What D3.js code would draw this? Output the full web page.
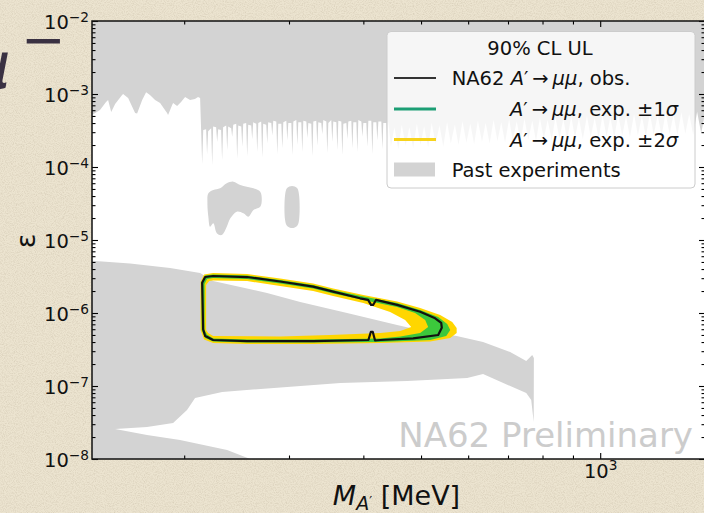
<!DOCTYPE html>
<html>
<head>
<meta charset="utf-8">
<script src="https://cdn.jsdelivr.net/npm/d3@7"></script>
<style>
  body { margin: 0; background: #ebe3cf; overflow: hidden; }
  svg { display: block; font-family: "DejaVu Sans", sans-serif; }
</style>
</head>
<body>
<div id="chart"></div>
<script>

// ---- data (mass in MeV, epsilon) ----

// past experiments, upper region: smooth lower edge up to ~213 MeV
var topEdgeMass = [140, 144.4, 147.8, 149, 150.8, 153.1, 157.3, 157.9, 161, 165.4, 166.7, 170, 172.6, 175.2,
  178.7, 182.2, 187.2, 187.9, 190.9, 191.6, 194.6, 197.6, 200.7, 204.6, 208.5, 211, 212.7];
var topEdgeEps = [5.15e-4, 6.04e-4, 7.76e-4, 8.27e-4, 5.66e-4, 7.29e-4, 9.68e-4, 1.0e-3, 8.81e-4, 5.49e-4, 5.4e-4, 8.27e-4, 1.06e-3, 9.68e-4,
  8.27e-4, 7.5e-4, 5.49e-4, 5.15e-4, 7.06e-4, 7.53e-4, 6.85e-4, 7.8e-4, 9.1e-4, 8.27e-4, 8.55e-4, 9.1e-4, 8.81e-4];

// then a comb of thin downward spikes (base, tip, base)
var spikeMass = [
  213.6, 214.4, 215.3,  217.7, 218.5, 219.4,  222.0, 222.9, 223.7,  226.3, 227.2, 228.1,
  230.7, 231.6, 232.5,  235.3, 236.2, 237.1,  239.9, 240.8, 241.8,  244.6, 245.5, 246.5,
  249.4, 250.4, 251.3,  254.2, 255.2, 256.2,  259.2, 260.2, 261.2,  264.3, 265.3, 266.4,
  269.4, 270.5, 271.5,  274.7, 275.8, 276.8,  280.1, 281.2, 282.3,  285.6, 286.7, 287.8,
  291.2, 292.3, 293.5,  296.9, 298.0, 299.2,  302.7, 303.9, 305.1,  308.6, 309.8, 311.0,
  314.6, 315.8, 317.1,  320.8, 322.0, 323.3,  327.0, 328.3, 329.6,  333.4, 334.7, 336.0,
  339.9, 341.2, 342.6,  346.6, 347.9, 349.3,  353.3, 354.7, 356.1,  360.3, 361.7, 363.1,
  367.3, 368.7, 370.2,  374.5, 376.0, 377.4,  381.8, 383.3, 384.8,  389.3, 390.8, 392.3,
  396.9, 398.4, 400.0,  404.6, 406.2, 407.8,  412.5, 414.1, 415.7,  420.6, 422.2, 423.9,
  428.8, 430.5, 432.1,  437.2, 438.9, 440.6];
var spikeEps = [
  3.0e-4, 1.1e-4, 3.2e-4,  3.3e-4, 1.5e-4, 3.1e-4,  3.4e-4, 1.05e-4, 3.6e-4,  3.5e-4, 2.2e-4, 3.3e-4,
  3.2e-4, 1.25e-4, 3.5e-4,  3.7e-4, 1.7e-4, 3.6e-4,  3.4e-4, 2.6e-4, 3.8e-4,  3.9e-4, 1.3e-4, 3.7e-4,
  3.6e-4, 1.9e-4, 3.9e-4,  4.0e-4, 1.4e-4, 3.8e-4,  3.7e-4, 2.4e-4, 4.1e-4,  3.9e-4, 1.6e-4, 4.0e-4,
  4.2e-4, 1.35e-4, 3.9e-4,  3.8e-4, 2.1e-4, 4.1e-4,  4.0e-4, 2.7e-4, 4.3e-4,  4.2e-4, 1.5e-4, 3.9e-4,
  3.9e-4, 1.8e-4, 4.1e-4,  4.3e-4, 2.3e-4, 4.0e-4,  4.0e-4, 1.45e-4, 4.2e-4,  4.4e-4, 2.0e-4, 4.1e-4,
  4.1e-4, 1.6e-4, 4.3e-4,  4.2e-4, 2.5e-4, 4.0e-4,  3.9e-4, 1.4e-4, 4.2e-4,  4.3e-4, 1.95e-4, 4.1e-4,
  4.0e-4, 2.8e-4, 4.4e-4,  4.2e-4, 1.55e-4, 4.0e-4,  4.4e-4, 2.2e-4, 4.2e-4,  4.1e-4, 1.7e-4, 4.3e-4,
  4.2e-4, 1.45e-4, 3.9e-4,  4.0e-4, 2.4e-4, 4.2e-4,  4.3e-4, 1.8e-4, 4.1e-4,  4.1e-4, 1.6e-4, 4.4e-4,
  4.2e-4, 2.6e-4, 4.0e-4,  4.0e-4, 1.9e-4, 4.3e-4,  4.3e-4, 1.5e-4, 4.1e-4,  4.1e-4, 2.3e-4, 4.2e-4,
  4.2e-4, 1.75e-4, 4.0e-4,  4.0e-4, 2.0e-4, 4.2e-4];

// coarser comb behind the legend and out to the right edge
var farMass = [445, 451, 458, 464, 471, 478, 485, 492, 499, 506, 514, 521, 529, 537, 545, 553, 561, 570,
  578, 587, 596, 605, 614, 623, 633, 642, 652, 662, 672, 682, 692, 703, 713, 724, 735, 746, 757, 769,
  780, 792, 804, 816, 829, 841, 854, 867, 880, 894, 907, 921, 935, 950, 964, 979, 994, 1009, 1025, 1040,
  1056, 1072, 1089, 1105, 1122, 1140, 1157, 1175, 1193, 1212, 1230, 1249, 1268, 1288, 1308, 1328, 1348,
  1369, 1390, 1411, 1433, 1455, 1478, 1500];
var farEps = [1.9e-4, 3.5e-4, 1.75e-4, 3.8e-4, 1.95e-4, 3.5e-4, 1.8e-4, 3.9e-4, 2.0e-4, 3.6e-4, 1.85e-4, 4.0e-4, 2.05e-4, 3.7e-4, 1.9e-4, 4.1e-4, 2.1e-4, 3.8e-4,
  2.0e-4, 4.2e-4, 2.15e-4, 3.9e-4, 2.05e-4, 4.3e-4, 2.2e-4, 4.0e-4, 2.1e-4, 4.4e-4, 2.25e-4, 4.1e-4, 2.15e-4, 4.5e-4, 2.3e-4, 4.2e-4, 2.2e-4, 4.6e-4, 2.35e-4, 4.3e-4,
  2.25e-4, 4.7e-4, 2.4e-4, 4.4e-4, 2.3e-4, 4.8e-4, 2.45e-4, 4.5e-4, 2.35e-4, 4.9e-4, 2.5e-4, 4.6e-4, 2.4e-4, 5.0e-4, 2.55e-4, 4.7e-4, 2.45e-4, 5.1e-4, 2.6e-4, 4.8e-4,
  2.5e-4, 5.2e-4, 2.65e-4, 4.9e-4, 2.55e-4, 5.3e-4, 2.7e-4, 5.0e-4, 2.6e-4, 5.4e-4, 2.75e-4, 5.1e-4, 2.65e-4, 5.5e-4, 2.8e-4, 5.2e-4, 2.7e-4,
  5.6e-4, 2.85e-4, 5.3e-4, 2.75e-4, 5.7e-4, 2.9e-4, 5.4e-4];

// past experiments, island around 2-6e-5
var pastBlobMass = [219.6, 223.9, 229.8, 235.8, 241.9, 248.4, 254.8, 261.5, 268.4, 270.0, 268.4, 261.5,
  256.4, 251.5, 245.1, 239.1, 235.8, 231.3, 226.9, 223.9, 221.1, 219.6, 218.8];
var pastBlobEps = [4.36e-5, 4.84e-5, 5.1e-5, 5.98e-5, 6.3e-5, 5.66e-5, 5.37e-5, 5.1e-5, 4.59e-5, 3.53e-5, 2.86e-5, 2.58e-5,
  2.09e-5, 2.32e-5, 2.44e-5, 1.98e-5, 1.52e-5, 1.17e-5, 1.24e-5, 1.69e-5, 1.52e-5, 2.09e-5, 3.18e-5];

// past experiments, narrow island near 300 MeV
var pastPillMass = [303.6, 309.5, 311.9, 311.9, 309.5, 303.6, 297.8, 295.5, 295.5, 297.8];
var pastPillEps = [5.5e-5, 5.16e-5, 4.13e-5, 1.88e-5, 1.56e-5, 1.46e-5, 1.56e-5, 1.88e-5, 4.13e-5, 5.16e-5];

// past experiments, lower band (beam dump region)
var pastLowMass = [140, 162.2, 189.4, 212.7, 223.7, 275.6, 313.3, 375.6, 455.8, 479.4, 573.9, 635.6, 705.8,
  751.2, 768.7, 773.7, 773.2, 765.8, 751.2, 635.6, 597.7, 473.8, 366.0, 231.6, 208.6, 202.2, 191.6,
  173.2, 153.1, 173.2, 196.8, 236.1, 258.2, 140];
var pastLowEps = [5.2e-6, 4.77e-6, 4.13e-6, 3.53e-6, 2.74e-6, 1.88e-6, 1.42e-6, 1.0e-6, 6.85e-7, 6.23e-7, 4.84e-7, 4.0e-7, 2.92e-7,
  2.2e-7, 2.66e-7, 2.42e-7, 3.21e-8, 6.43e-8, 8.0e-8, 1.46e-7, 1.29e-7, 1.17e-7, 1.10e-7, 8.3e-8, 6.85e-8, 4.69e-8, 3.11e-8,
  2.74e-8, 2.58e-8, 2.13e-8, 1.82e-8, 1.33e-8, 1.0e-8, 1.0e-8];

// NA62 observed 90% CL contour
var obsMass = [216.9, 223.7, 255.1, 289.9, 329.4, 355.8, 395.0, 407.4, 412.1, 415.4, 420.0, 455.8, 498.3, 528.1,
  540.6, 541.8, 534.3, 485.0, 427.3, 418.5, 414.9, 411.7, 407.9, 329.4, 255.1, 223.7, 216.9, 215.2, 214.4];
var obsEps = [3.11e-6, 3.21e-6, 3.11e-6, 2.7e-6, 2.3e-6, 1.96e-6, 1.59e-6, 1.51e-6, 1.29e-6, 1.29e-6, 1.51e-6, 1.29e-6, 1.04e-6, 8.45e-7,
  7.3e-7, 6.3e-7, 5.0e-7, 4.5e-7, 4.27e-7, 4.2e-7, 5.5e-7, 5.5e-7, 4.27e-7, 4.13e-7, 4.13e-7, 4.27e-7, 4.84e-7, 6.0e-7, 2.6e-6];

// expected contours: +-2 sigma (outer / inner edge) and +-1 sigma
var exp2OuterMass = [213.1, 213.1, 216.0, 223.7, 255.1, 289.9, 329.4, 355.8, 400.0, 455.8, 498.3, 538.4, 564.1,
  573.9, 573.9, 559.8, 518.0, 427.3, 329.4, 255.1, 223.7, 216.0];
var exp2OuterEps = [5.85e-7, 2.66e-6, 3.37e-6, 3.53e-6, 3.42e-6, 2.97e-6, 2.54e-6, 2.17e-6, 1.77e-6, 1.44e-6, 1.17e-6, 9.4e-7, 7.53e-7,
  6.23e-7, 5.32e-7, 4.55e-7, 4.07e-7, 3.88e-7, 3.76e-7, 3.76e-7, 3.88e-7, 4.34e-7];
var exp2InnerMass = [217.7, 217.7, 220.3, 223.7, 255.1, 289.9, 329.4, 355.8, 400.0, 443.7, 470.2, 481.3, 461.6,
  427.3, 351.7, 289.9, 223.7, 219.4];
var exp2InnerEps = [5.85e-7, 2.42e-6, 2.74e-6, 2.79e-6, 2.74e-6, 2.34e-6, 2.0e-6, 1.71e-6, 1.37e-6, 1.03e-6, 8.02e-7, 6.43e-7, 5.66e-7,
  5.32e-7, 5.0e-7, 4.77e-7, 4.84e-7, 5.32e-7];
var exp1OuterMass = [214.0, 214.0, 216.9, 223.7, 255.1, 289.9, 329.4, 355.8, 400.0, 455.8, 498.3, 534.3, 553.3,
  559.8, 551.2, 518.0, 427.3, 329.4, 255.1, 223.7, 216.9];
var exp1OuterEps = [5.85e-7, 2.66e-6, 3.27e-6, 3.37e-6, 3.27e-6, 2.83e-6, 2.42e-6, 2.07e-6, 1.68e-6, 1.37e-6, 1.10e-6, 8.8e-7, 7.06e-7,
  5.85e-7, 4.84e-7, 4.27e-7, 4.0e-7, 3.94e-7, 3.94e-7, 4.07e-7, 4.55e-7];
var exp1InnerMass = [216.4, 216.4, 218.5, 223.7, 255.1, 289.9, 329.4, 355.8, 400.0, 455.8, 488.7, 508.1, 514.0,
  498.3, 461.6, 427.3, 329.4, 255.1, 223.7, 218.5];
var exp1InnerEps = [5.85e-7, 2.49e-6, 2.92e-6, 3.02e-6, 2.92e-6, 2.54e-6, 2.17e-6, 1.85e-6, 1.51e-6, 1.21e-6, 1.0e-6, 8.0e-7, 6.43e-7,
  5.32e-7, 4.77e-7, 4.48e-7, 4.34e-7, 4.34e-7, 4.48e-7, 5.07e-7];

// axes
var massDomain = [140, 1500];
var epsDomain = [1e-8, 1e-2];
var yMajorTicks = [1e-8, 1e-7, 1e-6, 1e-5, 1e-4, 1e-3, 1e-2];
var xMajorTicks = [1000];

// legend
var legendTitle = "90% CL UL";
var legendLabels = [
  [["NA62 ", 0], ["A", 1], ["\u2032\u2009\u2192\u2009", 0], ["\u03bc\u03bc", 1], [", obs.", 0]],
  [["A", 1], ["\u2032\u2009\u2192\u2009", 0], ["\u03bc\u03bc", 1], [", exp. \u00b11", 0], ["\u03c3", 1]],
  [["A", 1], ["\u2032\u2009\u2192\u2009", 0], ["\u03bc\u03bc", 1], [", exp. \u00b12", 0], ["\u03c3", 1]],
  [["Past experiments", 0]]
];

// ---- drawing ----

var svgWidth = 704;
var svgHeight = 513;
var plot = { left: 92, top: 21, right: 705, bottom: 459 };

var svg = d3.select("#chart")
  .append("svg")
  .attr("width", svgWidth)
  .attr("height", svgHeight);

var defs = svg.append("defs");

// paper texture for the slide background
var paper = defs.append("filter").attr("id", "paper")
  .attr("x", 0).attr("y", 0).attr("width", "100%").attr("height", "100%");
paper.append("feTurbulence")
  .attr("type", "fractalNoise")
  .attr("baseFrequency", 0.9)
  .attr("numOctaves", 3)
  .attr("seed", 7);
paper.append("feColorMatrix")
  .attr("type", "matrix")
  .attr("values", "0 0 0 0 0.55  0 0 0 0 0.48  0 0 0 0 0.36  0.9 0 0 0 -0.35");

defs.append("clipPath").attr("id", "plotClip")
  .append("rect")
  .attr("x", plot.left).attr("y", plot.top)
  .attr("width", plot.right - plot.left)
  .attr("height", plot.bottom - plot.top);

svg.append("rect")
  .attr("width", svgWidth).attr("height", svgHeight)
  .attr("fill", "#ece4d0");
svg.append("rect")
  .attr("width", svgWidth).attr("height", svgHeight)
  .attr("filter", "url(#paper)");

// slide title peeking out behind the plot
svg.append("text")
  .attr("x", -30).attr("y", 88)
  .attr("font-size", "64px")
  .attr("font-style", "italic")
  .attr("fill", "#3a3142")
  .text("\u03bc");
svg.append("text")
  .attr("x", 21).attr("y", 58)
  .attr("font-size", "53px")
  .attr("fill", "#3a3142")
  .text("\u2212");

var x = d3.scaleLog().domain(massDomain).range([plot.left, plot.right]);
var y = d3.scaleLog().domain(epsDomain).range([plot.bottom, plot.top]);

var closedLine = d3.line()
  .x(d => x(d[0]))
  .y(d => y(d[1]))
  .curve(d3.curveLinearClosed);

var smoothLine = d3.line()
  .x(d => x(d[0]))
  .y(d => y(d[1]))
  .curve(d3.curveCatmullRomClosed.alpha(0.5));

svg.append("rect")
  .attr("x", plot.left).attr("y", plot.top)
  .attr("width", plot.right - plot.left)
  .attr("height", plot.bottom - plot.top)
  .attr("fill", "white");

var chartGroup = svg.append("g").attr("clip-path", "url(#plotClip)");

var pastColor = "#d3d3d3";

var topOutline = [[massDomain[0], epsDomain[1]]].concat(
  d3.zip(topEdgeMass, topEdgeEps),
  d3.zip(spikeMass, spikeEps),
  d3.zip(farMass, farEps),
  [[massDomain[1], epsDomain[1]]]);

chartGroup.append("path")
  .attr("d", closedLine(topOutline))
  .attr("fill", pastColor);
chartGroup.append("path")
  .attr("d", smoothLine(d3.zip(pastBlobMass, pastBlobEps)))
  .attr("fill", pastColor);
chartGroup.append("path")
  .attr("d", smoothLine(d3.zip(pastPillMass, pastPillEps)))
  .attr("fill", pastColor);
chartGroup.append("path")
  .attr("d", closedLine(d3.zip(pastLowMass, pastLowEps)))
  .attr("fill", pastColor);

// expected bands as rings (outer edge + inner edge, even-odd fill)
chartGroup.append("path")
  .attr("d", closedLine(d3.zip(exp2OuterMass, exp2OuterEps)) + closedLine(d3.zip(exp2InnerMass, exp2InnerEps)))
  .attr("fill", "#ffd600")
  .attr("fill-rule", "evenodd");
chartGroup.append("path")
  .attr("d", closedLine(d3.zip(exp1OuterMass, exp1OuterEps)) + closedLine(d3.zip(exp1InnerMass, exp1InnerEps)))
  .attr("fill", "#3cc83c")
  .attr("fill-rule", "evenodd");

chartGroup.append("path")
  .attr("d", closedLine(d3.zip(obsMass, obsEps)))
  .attr("fill", "none")
  .attr("stroke", "#111")
  .attr("stroke-width", 2.2)
  .attr("stroke-linejoin", "round");

// watermark
chartGroup.append("text")
  .attr("x", 693).attr("y", 447)
  .attr("text-anchor", "end")
  .attr("font-size", "34px")
  .attr("fill", "#cccccc")
  .text("NA62 Preliminary");

// ---- axes: ticks on all four sides, pointing inwards ----

function powerLabel(sel) {
  sel.each(function(d) {
    var p = Math.round(Math.log10(d));
    var t = d3.select(this).text(null);
    t.append("tspan").text("10");
    t.append("tspan")
      .attr("font-size", "13.7px")
      .attr("dy", -7.4)
      .text((p < 0 ? "\u2212" : "") + Math.abs(p));
  });
}

var yMinorTicks = y.ticks().filter(d => yMajorTicks.indexOf(d) < 0);
var xMinorTicks = x.ticks().filter(d => xMajorTicks.indexOf(d) < 0);

function styleAxis(g) {
  g.attr("font-family", null).attr("font-size", null);
  g.select(".domain").remove();
  g.selectAll(".tick line").attr("stroke-width", 1.1);
}

var leftMajor = svg.append("g")
  .attr("transform", `translate(${plot.left},0)`)
  .call(d3.axisLeft(y).tickValues(yMajorTicks).tickSize(-6).tickPadding(3));
styleAxis(leftMajor);
leftMajor.selectAll(".tick text")
  .attr("font-size", "19.5px")
  .attr("fill", "#111")
  .attr("dy", 7.7)
  .call(powerLabel);

svg.append("g")
  .attr("transform", `translate(${plot.left},0)`)
  .call(d3.axisLeft(y).tickValues(yMinorTicks).tickSize(-3.5).tickFormat(""))
  .call(styleAxis);

svg.append("g")
  .attr("transform", `translate(${plot.right},0)`)
  .call(d3.axisRight(y).tickValues(yMajorTicks).tickSize(-6).tickFormat(""))
  .call(styleAxis);
svg.append("g")
  .attr("transform", `translate(${plot.right},0)`)
  .call(d3.axisRight(y).tickValues(yMinorTicks).tickSize(-3.5).tickFormat(""))
  .call(styleAxis);

var bottomMajor = svg.append("g")
  .attr("transform", `translate(0,${plot.bottom})`)
  .call(d3.axisBottom(x).tickValues(xMajorTicks).tickSize(-6).tickPadding(5));
styleAxis(bottomMajor);
bottomMajor.selectAll(".tick text")
  .attr("font-size", "19.5px")
  .attr("fill", "#111")
  .call(powerLabel);

svg.append("g")
  .attr("transform", `translate(0,${plot.bottom})`)
  .call(d3.axisBottom(x).tickValues(xMinorTicks).tickSize(-3.5).tickFormat(""))
  .call(styleAxis);
svg.append("g")
  .attr("transform", `translate(0,${plot.top})`)
  .call(d3.axisTop(x).tickValues(xMajorTicks).tickSize(-6).tickFormat(""))
  .call(styleAxis);
svg.append("g")
  .attr("transform", `translate(0,${plot.top})`)
  .call(d3.axisTop(x).tickValues(xMinorTicks).tickSize(-3.5).tickFormat(""))
  .call(styleAxis);

// frame
svg.append("rect")
  .attr("x", plot.left).attr("y", plot.top)
  .attr("width", plot.right - plot.left)
  .attr("height", plot.bottom - plot.top)
  .attr("fill", "none")
  .attr("stroke", "#111")
  .attr("stroke-width", 1.5);

// axis labels
var xLabel = svg.append("text")
  .attr("x", (plot.left + plot.right) / 2 - 2)
  .attr("y", 505)
  .attr("text-anchor", "middle")
  .attr("font-size", "27px")
  .attr("fill", "#111");
xLabel.append("tspan").attr("font-style", "italic").text("M");
xLabel.append("tspan").attr("font-style", "italic").attr("font-size", "19px").attr("dy", 5).text("A");
xLabel.append("tspan").attr("font-size", "13px").attr("dy", -5).text("\u2032");
xLabel.append("tspan").text(" [MeV]");

svg.append("text")
  .attr("transform", "translate(25.5,241) rotate(-90)")
  .attr("text-anchor", "middle")
  .attr("dominant-baseline", "central")
  .attr("font-size", "27px")
  .attr("fill", "#111")
  .text("\u03b5");

// ---- legend ----
var legend = svg.append("g");
legend.append("rect")
  .attr("x", 387).attr("y", 31.5)
  .attr("width", 308).attr("height", 156.5)
  .attr("rx", 4)
  .attr("fill", "white")
  .attr("fill-opacity", 0.8)
  .attr("stroke", "#cccccc");

legend.append("text")
  .attr("x", 540).attr("y", 55)
  .attr("text-anchor", "middle")
  .attr("font-size", "19.5px")
  .attr("fill", "#111")
  .text(legendTitle);

var handleColors = ["#333333", "#1c9e74", "#f7d31c"];
var rowBaseline = [85, 116, 146.5, 177];
var rowStart = [451.7, 510, 510, 451.7];

handleColors.forEach(function(c, i) {
  legend.append("line")
    .attr("x1", 394).attr("x2", 436)
    .attr("y1", rowBaseline[i] - 7).attr("y2", rowBaseline[i] - 7)
    .attr("stroke", c)
    .attr("stroke-width", i === 0 ? 2 : 2.8);
});
legend.append("rect")
  .attr("x", 394).attr("y", 162.5)
  .attr("width", 41).attr("height", 14)
  .attr("fill", pastColor);

legendLabels.forEach(function(parts, i) {
  var t = legend.append("text")
    .attr("x", rowStart[i]).attr("y", rowBaseline[i])
    .attr("font-size", "19.5px")
    .attr("fill", "#111");
  parts.forEach(function(p) {
    t.append("tspan")
      .attr("font-style", p[1] ? "italic" : null)
      .text(p[0]);
  });
});

</script>
</body>
</html>
